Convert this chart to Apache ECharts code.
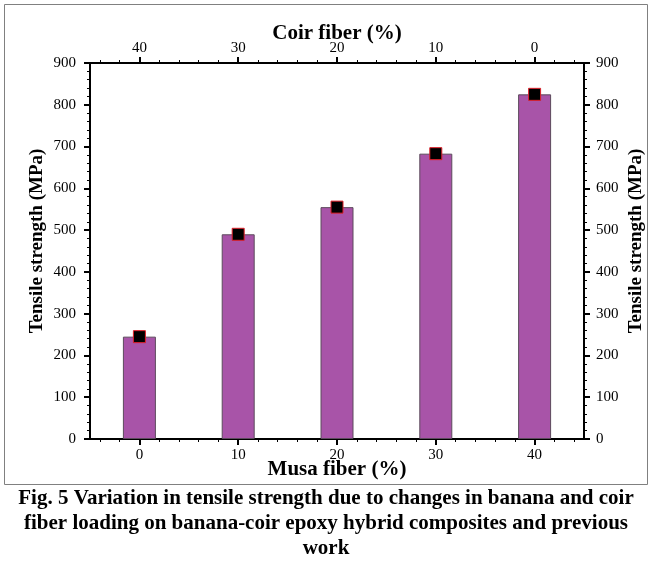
<!DOCTYPE html>
<html>
<head>
<meta charset="utf-8">
<script src="https://cdn.jsdelivr.net/npm/echarts@6/dist/echarts.min.js"></script>
<style>html,body{margin:0;padding:0;background:#fff}#c{width:652px;height:567px}</style>
</head>
<body>
<div id="c"></div>
<script>
const musaFiber = [0, 10, 20, 30, 40];
const coirFiber = [40, 30, 20, 10, 0];
const tensileStrength = [245, 490, 555, 683, 825];
const minorXTicks = [-4, -2, 2, 4, 6, 8, 12, 14, 16, 18, 22, 24, 26, 28, 32, 34, 36, 38, 42, 44];
const captionLines = [
  'Fig. 5 Variation in tensile strength due to changes in banana and coir',
  'fiber loading on banana-coir epoxy hybrid composites and previous',
  'work'
];

const serif = '"Liberation Serif", "Times New Roman", serif';
const chart = echarts.init(document.getElementById('c'), null, {renderer: 'canvas'});
const pts = musaFiber.map((m, i) => [m, tensileStrength[i]]);

const axLine = {show: true, onZero: false, lineStyle: {color: '#000', width: 2}};
const lbl = {color: '#000', fontFamily: serif, fontSize: 15};
const xName = {color: '#000', fontFamily: serif, fontSize: 21, fontWeight: 'bold'};
const yName = {color: '#000', fontFamily: serif, fontSize: 19, fontWeight: 'bold', padding: [0, 0, 0, 20]};

const xBase = {type: 'value', min: -5, max: 45, gridIndex: 0, splitLine: {show: false}};

const captionGraphics = captionLines.map((t, i) => ({
  type: 'text', left: 'center', top: 488 + i * 25, silent: true,
  style: {text: t, fill: '#000', font: 'bold 21px ' + serif}
}));

chart.setOption({
  animation: false,
  backgroundColor: '#fff',
  grid: {left: 90, right: 68, top: 63, bottom: 128, containLabel: false, outerBoundsMode: 'none'},
  xAxis: [
    Object.assign({}, xBase, {
      position: 'bottom', name: 'Musa fiber (%)', nameLocation: 'middle', nameGap: 20, nameMoveOverlap: false,
      nameTextStyle: xName, axisLine: axLine,
      axisTick: {show: true, customValues: musaFiber, length: 6, lineStyle: {color: '#000', width: 2}},
      axisLabel: Object.assign({customValues: musaFiber, margin: 9}, lbl)
    }),
    Object.assign({}, xBase, {
      position: 'top', inverse: true, name: 'Coir fiber (%)', nameLocation: 'middle', nameGap: 19, nameMoveOverlap: false,
      nameTextStyle: xName, axisLine: axLine,
      axisTick: {show: true, customValues: coirFiber, length: 6, lineStyle: {color: '#000', width: 2}},
      axisLabel: Object.assign({customValues: coirFiber, margin: 7}, lbl)
    }),
    Object.assign({}, xBase, {
      position: 'bottom', offset: 0, axisLine: {show: false, onZero: false},
      axisTick: {show: true, customValues: minorXTicks, length: 3, lineStyle: {color: '#000', width: 1}},
      axisLabel: {show: false}
    }),
    Object.assign({}, xBase, {
      position: 'top', offset: 0, axisLine: {show: false, onZero: false},
      axisTick: {show: true, customValues: minorXTicks, length: 3, lineStyle: {color: '#000', width: 1}},
      axisLabel: {show: false}
    })
  ],
  yAxis: [
    {
      type: 'value', min: 0, max: 900, interval: 100, position: 'left',
      name: 'Tensile strength (MPa)', nameLocation: 'middle', nameGap: 43, nameRotate: 90, nameMoveOverlap: false,
      nameTextStyle: yName, axisLine: axLine, splitLine: {show: false},
      axisTick: {show: true, length: 6, lineStyle: {color: '#000', width: 2}},
      minorTick: {show: true, splitNumber: 5, length: 3, lineStyle: {color: '#000', width: 1}},
      axisLabel: Object.assign({margin: 14}, lbl)
    },
    {
      type: 'value', min: 0, max: 900, interval: 100, position: 'right',
      name: 'Tensile strength (MPa)', nameLocation: 'middle', nameGap: 43, nameRotate: 90, nameMoveOverlap: false,
      nameTextStyle: yName, axisLine: axLine, splitLine: {show: false},
      axisTick: {show: true, length: 6, lineStyle: {color: '#000', width: 2}},
      minorTick: {show: true, splitNumber: 5, length: 3, lineStyle: {color: '#000', width: 1}},
      axisLabel: Object.assign({margin: 12}, lbl)
    }
  ],
  series: [
    {
      type: 'bar', xAxisIndex: 0, yAxisIndex: 0, data: pts, barWidth: 33,
      itemStyle: {color: '#A854A8', borderColor: '#5c4a5c', borderWidth: 1}
    },
    {
      type: 'scatter', xAxisIndex: 0, yAxisIndex: 0, data: pts, symbol: 'rect', symbolSize: 12, z: 5,
      itemStyle: {color: '#000', borderColor: '#e0202a', borderWidth: 1, opacity: 1}
    }
  ],
  graphic: [
    {
      type: 'rect', silent: true, z: -1,
      shape: {x: 4.5, y: 4.5, width: 643, height: 480},
      style: {fill: 'none', stroke: '#808080', lineWidth: 1}
    }
  ].concat(captionGraphics)
});
</script>
</body>
</html>
